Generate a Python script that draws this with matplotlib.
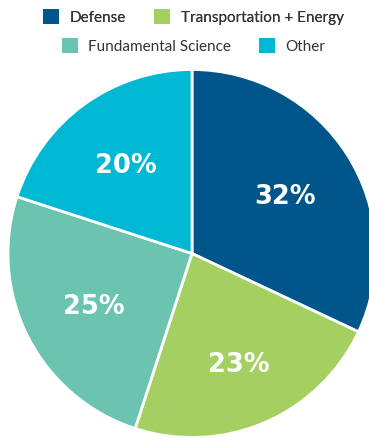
import numpy as np
import matplotlib
matplotlib.use("Agg")
import matplotlib.pyplot as plt
from matplotlib.patches import Patch

categories = ["Defense", "Transportation + Energy", "Fundamental Science", "Other"]
values = [32, 23, 25, 20]
colors = ["#00568A", "#A4CF61", "#6BC4B0", "#00B8D3"]
label_dist = [0.60, 0.64, 0.60, 0.61]

plt.rcParams['font.family'] = ['Lato', 'DejaVu Sans']

W, H = 369, 440
fig = plt.figure(figsize=(W/100, H/100), dpi=100)
cx, cy, r = 192, 253.5, 184
ax = fig.add_axes([(cx - r)/W, (H - cy - r)/H, 2*r/W, 2*r/H])
ax.axis('off')

wedges, texts = ax.pie(
    values, colors=colors, startangle=90, counterclock=False, radius=1,
    wedgeprops=dict(edgecolor='white', linewidth=2))
ax.set_xlim(-1, 1)
ax.set_ylim(-1, 1)

for w, v, d in zip(wedges, values, label_dist):
    ang = np.deg2rad((w.theta1 + w.theta2) / 2)
    ax.text(d*np.cos(ang), d*np.sin(ang), f"{v}%", ha='center', va='center_baseline',
            color='white', fontsize=18.5, fontweight='bold', family='DejaVu Sans')

def leg(idx, y):
    handles = [Patch(facecolor=colors[i], edgecolor='none', label=categories[i]) for i in idx]
    l = fig.legend(handles=handles, loc='center', bbox_to_anchor=(193.5/W, y), ncol=len(idx),
                   frameon=False, fontsize=11, handlelength=1.05, handleheight=1.05,
                   handletextpad=0.7, columnspacing=1.8, borderpad=0, borderaxespad=0)
    for t in l.get_texts():
        t.set_color('#333333')
    return l

l1 = leg([0, 1], 1 - 17/H)
fig.add_artist(l1)
leg([2, 3], 1 - 46/H)

fig.savefig("out.png", dpi=100)
